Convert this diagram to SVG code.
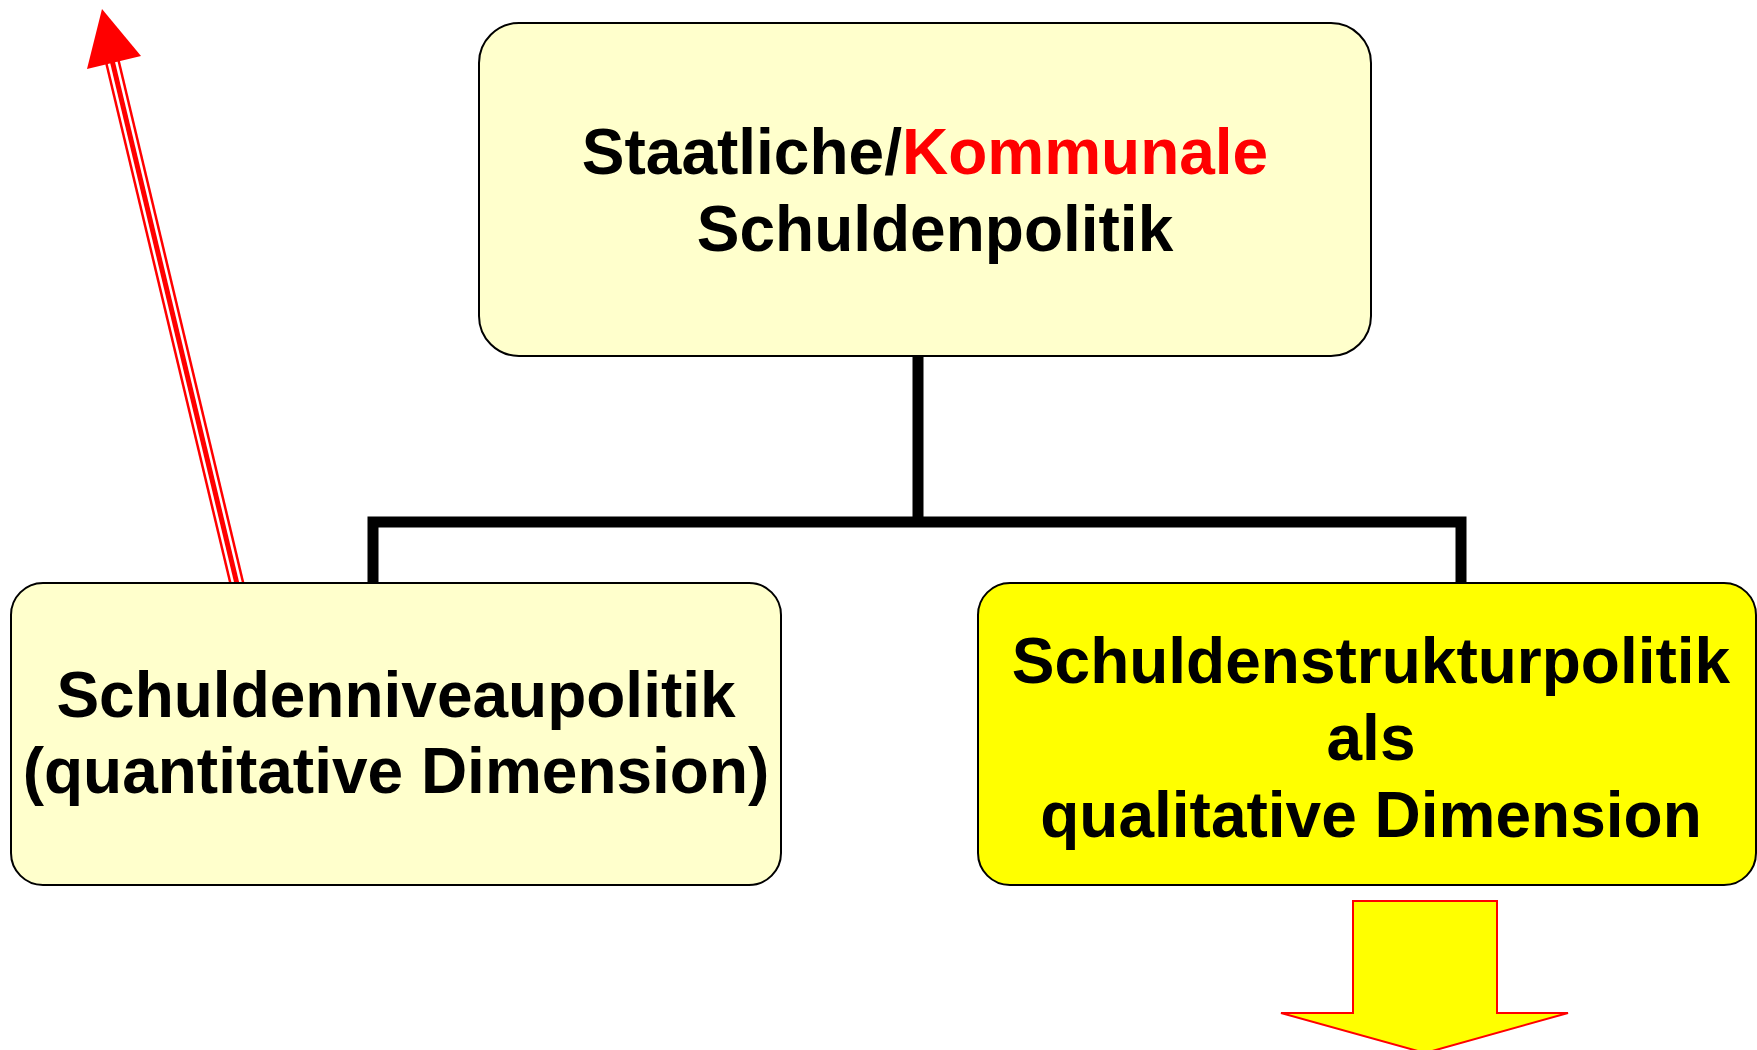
<svg xmlns="http://www.w3.org/2000/svg" width="1757" height="1050" viewBox="0 0 1757 1050">
<style>
.box{stroke:#000;stroke-width:2}
.light{fill:#FFFFCC}
.yel{fill:#FFFF00}
.t{font-family:"Liberation Sans",Arial,sans-serif;font-weight:bold;font-size:64px;fill:#000;text-anchor:middle}
.conn{fill:none;stroke:#000;stroke-width:11;stroke-linecap:butt;stroke-linejoin:miter}
</style>
<rect width="1757" height="1050" fill="#fff"/>
<g id="connectors">
<path class="conn" d="M918,356 V522"/>
<path class="conn" d="M373,584 V522 H1461 V584"/>
<g id="red-arrow">
<line x1="237" y1="584" x2="112" y2="60" stroke="#FF0000" stroke-width="15"/>
<line x1="237" y1="584" x2="112" y2="60" stroke="#FFFFFF" stroke-width="10"/>
<line x1="237" y1="584" x2="112" y2="60" stroke="#FF0000" stroke-width="5"/>
<polygon points="102,9 141,56 87,69" fill="#FF0000"/>
</g>
</g>
<g id="node-top">
<rect class="box light" x="479" y="23" width="892" height="333" rx="40" ry="40"/>
<text class="t" x="925" y="174">Staatliche/<tspan fill="#FF0000">Kommunale</tspan></text>
<text class="t" x="935" y="251">Schuldenpolitik</text>
</g>
<g id="node-left">
<rect class="box light" x="11" y="583" width="770" height="302" rx="32" ry="32"/>
<text class="t" x="396" y="717">Schuldenniveaupolitik</text>
<text class="t" x="396" y="793">(quantitative Dimension)</text>
</g>
<g id="node-right">
<rect class="box yel" x="978" y="583" width="778" height="302" rx="32" ry="32"/>
<text class="t" x="1371" y="683">Schuldenstrukturpolitik</text>
<text class="t" x="1371" y="760">als</text>
<text class="t" x="1371" y="837">qualitative Dimension</text>
</g>
<g id="yellow-arrow">
<polygon points="1353,901 1497,901 1497,1013 1568,1013 1425,1053 1281,1013 1353,1013" fill="#FFFF00" stroke="#FF0000" stroke-width="2" stroke-linejoin="miter"/>
</g>
</svg>
